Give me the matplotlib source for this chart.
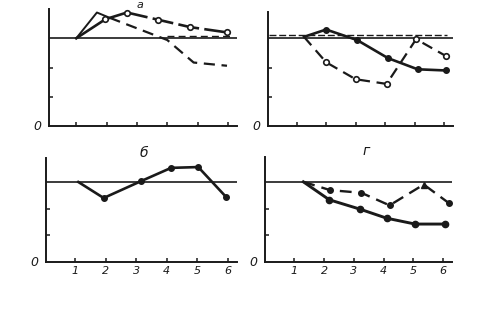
import matplotlib.pyplot as plt
import numpy as np

# panel a
a_thin_x = [1, 1.68, 2.1, 4.0, 4.87, 5.97]
a_thin_y = [3, 3.88, 3.7, 2.94, 2.17, 2.06]
a_thick_x = [1, 1.96, 2.67, 3.71, 4.76, 5.97]
a_thick_y = [3, 3.65, 3.88, 3.63, 3.38, 3.2]

# panel v (top right)
v_solid_x = [1.25, 2.0, 3.05, 4.1, 5.1, 6.05]
v_solid_y = [3.05, 3.3, 2.94, 2.32, 1.94, 1.9]
v_dash_x = [1.25, 2.0, 3.0, 4.05, 5.05, 6.05]
v_dash_y = [3.05, 2.18, 1.6, 1.44, 2.97, 2.4]

# panel b (bottom left)
b_x = [1.1, 1.93, 3.15, 4.14, 5.03, 5.95]
b_y = [3.0, 2.4, 3.03, 3.53, 3.56, 2.43]

# panel g (bottom right)
g_solid_x = [1.3, 2.17, 3.2, 4.1, 5.06, 6.07]
g_solid_y = [3.0, 2.33, 1.98, 1.64, 1.42, 1.42]
g_dash_x = [1.3, 2.2, 3.25, 4.2, 5.35, 6.2]
g_dash_y = [3.0, 2.69, 2.59, 2.12, 2.9, 2.2]

x_ticks = [1, 2, 3, 4, 5, 6]
x_labels = ["1", "2", "3", "4", "5", "6"]
ink = "#1a1a1a"


def px_axes(fig, left, right, top, bottom):
    # pixel box -> figure fraction
    W, H = 500, 328
    return fig.add_axes([left / W, 1 - bottom / H, (right - left) / W, (bottom - top) / H])


def frame(ax, x0, ytop, labels):
    ax.set_xlim(x0, 6.3)
    ax.set_ylim(0, ytop)
    for s in ["top", "right"]:
        ax.spines[s].set_visible(False)
    for s in ["left", "bottom"]:
        ax.spines[s].set_linewidth(1.4)
        ax.spines[s].set_color(ink)
    ax.set_xticks(x_ticks)
    ax.set_yticks([1, 2])
    ax.tick_params(direction="in", length=3, width=1.1, colors=ink)
    ax.set_yticklabels([])
    if labels:
        ax.set_xticklabels(x_labels, fontsize=8, style="italic")
        ax.tick_params(axis="x", pad=3)
    else:
        ax.set_xticklabels([])
    ax.axhline(3, color=ink, lw=1.2)
    ax.text(-0.04, 0, "0", transform=ax.transAxes, ha="right", va="center",
            fontsize=9, style="italic", color=ink)
    ax.patch.set_alpha(0)


fig = plt.figure(figsize=(5, 3.28), dpi=100)

# a
ax = px_axes(fig, 49, 237, 9, 126)
frame(ax, 0.1, 4.0, False)
ax.plot(a_thin_x[:3], a_thin_y[:3], color=ink, lw=1.4)
ax.plot(a_thin_x[2:], a_thin_y[2:], color=ink, lw=1.6, ls=(0, (5, 3)))
ax.plot(a_thick_x[:3], a_thick_y[:3], color=ink, lw=1.9)
ax.plot(a_thick_x[2:], a_thick_y[2:], color=ink, lw=1.9, ls=(0, (8, 2)))
ax.plot(a_thick_x[1:], a_thick_y[1:], ls="none", marker="o", ms=4,
        mfc="white", mec=ink, mew=1.2)
ax.plot([4.0, 6.1], [3.08, 3.08], color=ink, lw=1.0, ls=(0, (5, 3)))
ax.text(3.1, 4.3, "а", fontsize=8, style="italic", ha="center", va="top",
        color=ink, clip_on=False)

# v
ax = px_axes(fig, 268, 453, 12, 126)
frame(ax, 0.03, 3.9, False)
ax.plot([0.05, 6.1], [3.1, 3.1], color=ink, lw=1.0, ls=(0, (5, 2)))
ax.plot(v_solid_x, v_solid_y, color=ink, lw=1.9, marker="o", ms=4,
        mfc=ink, mec=ink, markevery=[1, 2, 3, 4, 5])
ax.plot(v_dash_x, v_dash_y, color=ink, lw=1.6, ls=(0, (5, 3)), marker="o", ms=4,
        mfc="white", mec=ink, mew=1.2, markevery=[1, 2, 3, 4, 5])

# b
ax = px_axes(fig, 46, 237, 158, 262)
frame(ax, 0.04, 3.9, True)
ax.plot(b_x, b_y, color=ink, lw=1.9, marker="o", ms=4, mfc=ink, mec=ink,
        markevery=[1, 2, 3, 4, 5])
ax.text(3.25, 4.1, "б", fontsize=10, style="italic", ha="center", va="center",
        color=ink, clip_on=False)

# g
ax = px_axes(fig, 265, 452, 157, 262)
frame(ax, 0.01, 3.93, True)
ax.plot(g_solid_x, g_solid_y, color=ink, lw=2.1, marker="o", ms=4.5, mfc=ink,
        mec=ink, markevery=[1, 2, 3, 4, 5])
ax.plot(g_dash_x, g_dash_y, color=ink, lw=1.7, ls=(0, (5, 3)), marker="o", ms=4,
        mfc=ink, mec=ink, markevery=[1, 2, 3, 5])
ax.plot(g_dash_x[4], g_dash_y[4], marker="^", ms=5, color=ink)
ax.text(3.4, 4.15, "г", fontsize=10, style="italic", ha="center", va="center",
        color=ink, clip_on=False)

fig.savefig("out.png", dpi=100)
